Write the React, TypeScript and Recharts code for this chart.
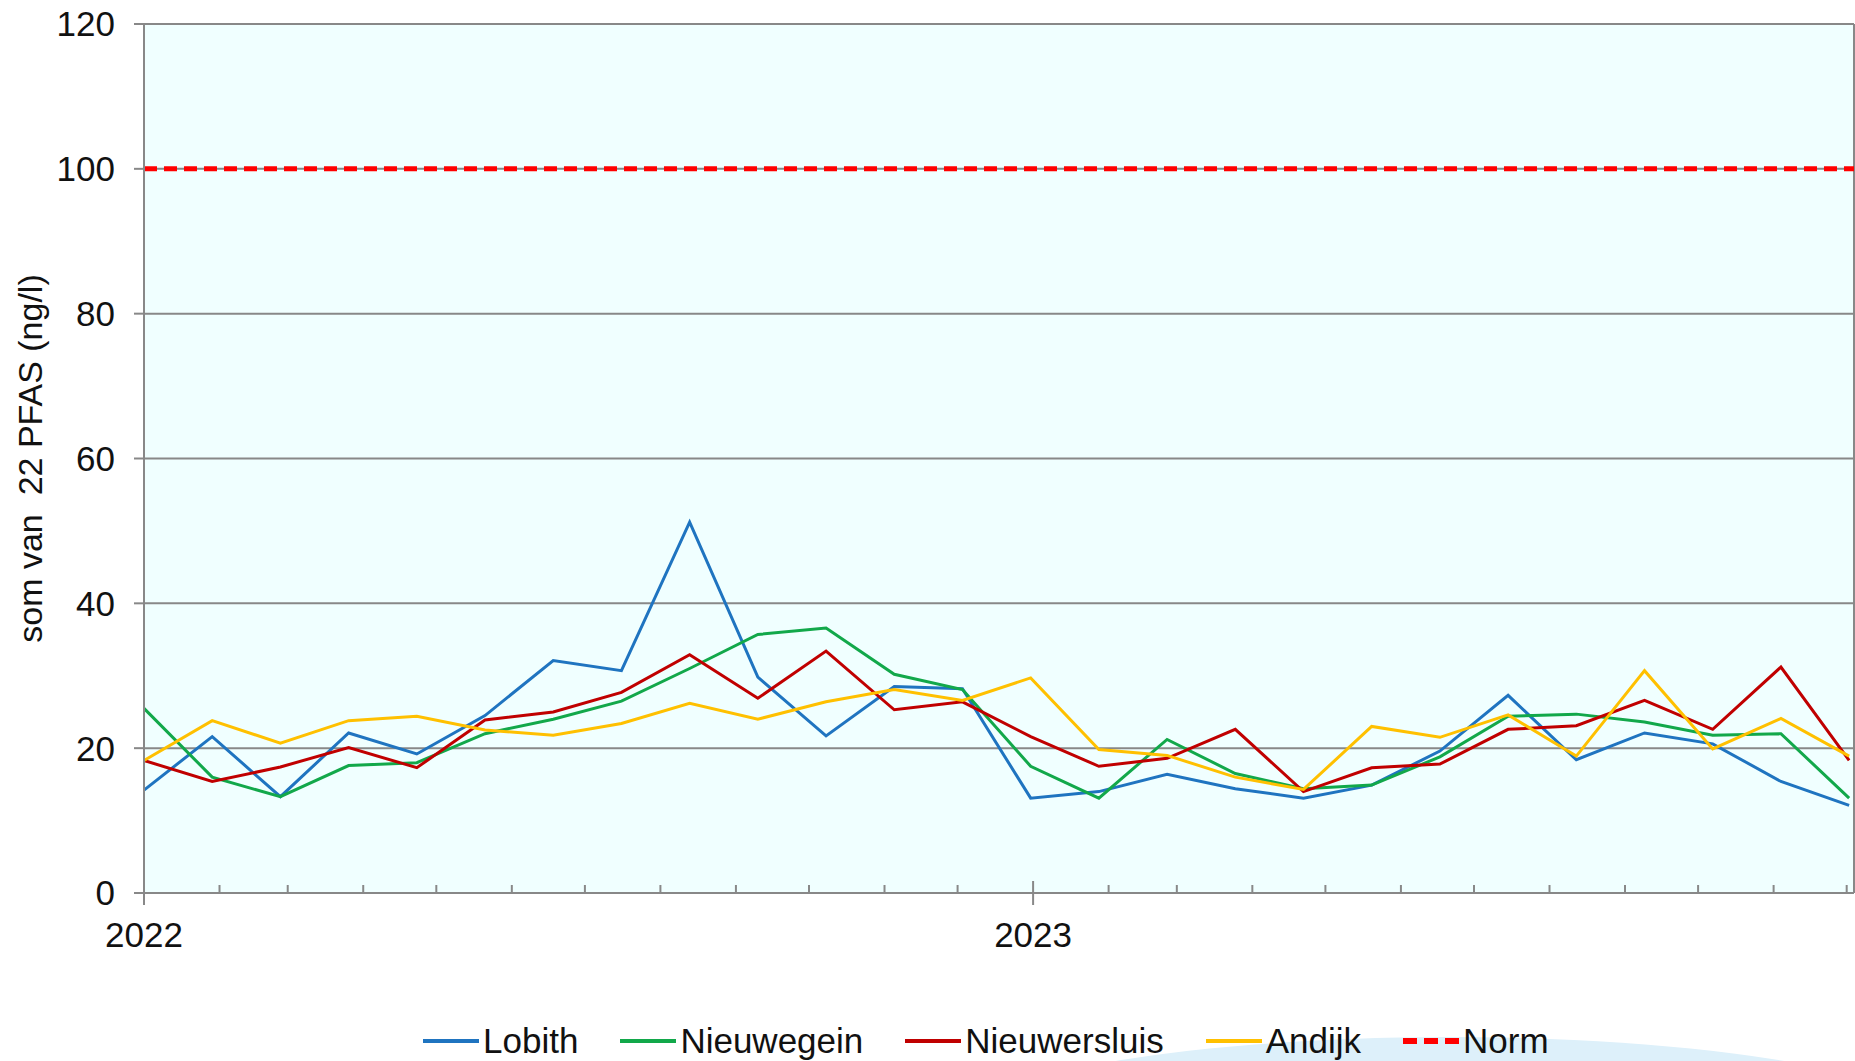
import React from 'react'
import { LineChart, Line, XAxis, YAxis, CartesianGrid, ReferenceLine } from 'recharts'

// sample days counted from 1 Jan 2022 (4-weekly sampling)
const sampleDays = [0, 28, 56, 84, 112, 140, 168, 196, 224, 252, 280, 308, 336, 364, 392, 420, 448, 476, 504, 532, 560, 588, 616, 644, 672, 700]

const lobith = [14.2, 21.6, 13.3, 22.1, 19.2, 24.5, 32.1, 30.7, 51.2, 29.8, 21.7, 28.5, 28.2, 13.1, 14.0, 16.4, 14.4, 13.1, 14.9, 19.6, 27.3, 18.4, 22.1, 20.6, 15.4, 12.1]
const nieuwegein = [25.5, 16.0, 13.3, 17.6, 18.0, 22.0, 24.0, 26.5, 31.0, 35.7, 36.6, 30.2, 28.1, 17.5, 13.1, 21.2, 16.5, 14.4, 14.9, 18.8, 24.4, 24.7, 23.6, 21.8, 22.0, 13.1]
const nieuwersluis = [18.3, 15.4, 17.4, 20.1, 17.3, 23.9, 25.0, 27.7, 32.9, 26.9, 33.4, 25.3, 26.4, 21.6, 17.5, 18.6, 22.6, 14.0, 17.3, 17.8, 22.6, 23.1, 26.6, 22.6, 31.2, 18.3]
const andijk = [18.3, 23.8, 20.7, 23.8, 24.4, 22.5, 21.8, 23.4, 26.2, 24.0, 26.4, 28.1, 26.6, 29.7, 19.8, 19.0, 16.0, 14.3, 23.0, 21.5, 24.6, 18.9, 30.7, 19.9, 24.1, 18.9]

const NORM = 100

// month starts (days from 1 Jan 2022) and year labels
const monthTicks = [0, 31, 59, 90, 120, 151, 181, 212, 243, 273, 304, 334, 365, 396, 424, 455, 485, 516, 546, 577, 608, 638, 669, 699]
const yearLabels: Record<number, string> = { 0: '2022', 365: '2023' }
const yTicks = [0, 20, 40, 60, 80, 100, 120]

const FONT = '"Liberation Sans", Arial, sans-serif'
const AXIS = '#888888'

const series = [
  { key: 'Lobith', color: '#1F74C0' },
  { key: 'Nieuwegein', color: '#12A84A' },
  { key: 'Nieuwersluis', color: '#C00000' },
  { key: 'Andijk', color: '#FFC000' },
]

const data = sampleDays.map((d, i) => ({
  day: d,
  Lobith: lobith[i],
  Nieuwegein: nieuwegein[i],
  Nieuwersluis: nieuwersluis[i],
  Andijk: andijk[i],
}))

const XTick = (props: any) => {
  const { x, y, payload } = props
  const label = yearLabels[payload.value]
  const major = label !== undefined
  return (
    <g>
      <line x1={x} x2={x} y1={major ? y - 12 : y - 8} y2={major ? y + 12 : y} stroke={AXIS} strokeWidth={2} />
      {major && (
        <text x={x} y={y + 54} textAnchor="middle" fontSize={35} fill="#111" fontFamily={FONT}>
          {label}
        </text>
      )}
    </g>
  )
}

const LegendItem = ({ color, label, dashed }: { color: string; label: string; dashed?: boolean }) => (
  <div style={{ display: 'flex', alignItems: 'center', marginRight: 42 }}>
    <svg width={56} height={10} style={{ marginRight: 4 }}>
      <line
        x1={0}
        x2={56}
        y1={5}
        y2={5}
        stroke={color}
        strokeWidth={dashed ? 6 : 4}
        strokeDasharray={dashed ? '14 7' : undefined}
      />
    </svg>
    <span>{label}</span>
  </div>
)

export default function App() {
  return (
    <div style={{ position: 'absolute', left: 0, top: 0, width: 1855, height: 1061, background: '#fff', overflow: 'hidden', fontFamily: FONT }}>
      <svg width={1855} height={1061} style={{ position: 'absolute', left: 0, top: 0 }}>
        <ellipse cx={1450} cy={1135} rx={510} ry={98} fill="#DDF0FA" />
      </svg>
      <div style={{ position: 'absolute', left: 0, top: 0 }}>
        <LineChart width={1855} height={1061} data={data} margin={{ top: 24, right: 1, left: 0, bottom: 108 }}>
          <CartesianGrid vertical={false} stroke={AXIS} strokeWidth={2} fill="#F0FFFF" fillOpacity={1} />
          <XAxis
            dataKey="day"
            type="number"
            domain={[0, 702]}
            ticks={monthTicks}
            interval={0}
            height={60}
            tickSize={0}
            tickMargin={0}
            tickLine={false}
            axisLine={{ stroke: AXIS, strokeWidth: 2 }}
            tick={<XTick />}
          />
          <YAxis
            domain={[0, 120]}
            ticks={yTicks}
            interval={0}
            width={144}
            tickSize={10}
            tickMargin={19}
            tickLine={{ stroke: AXIS, strokeWidth: 2 }}
            axisLine={{ stroke: AXIS, strokeWidth: 2 }}
            tick={{ fontSize: 35, fill: '#111', fontFamily: FONT }}
            label={{
              value: 'som van\u00A0 22 PFAS (ng/l)',
              angle: -90,
              position: 'insideLeft',
              offset: 30,
              style: { textAnchor: 'middle', fontSize: 34, fill: '#111', fontFamily: FONT },
            }}
          />
          <ReferenceLine x={702} stroke={AXIS} strokeWidth={2} />
          <ReferenceLine y={NORM} stroke="#FF0000" strokeWidth={5} strokeDasharray="13 7" />
          {series.map((s) => (
            <Line
              key={s.key}
              type="linear"
              dataKey={s.key}
              stroke={s.color}
              strokeWidth={3}
              dot={false}
              activeDot={false}
              isAnimationActive={false}
            />
          ))}
        </LineChart>
      </div>
      <div
        style={{
          position: 'absolute',
          left: 423,
          top: 1020,
          display: 'flex',
          alignItems: 'center',
          fontSize: 35,
          color: '#111',
          lineHeight: '42px',
        }}
      >
        {series.map((s) => (
          <LegendItem key={s.key} color={s.color} label={s.key} />
        ))}
        <LegendItem color="#FF0000" label="Norm" dashed />
      </div>
    </div>
  )
}
